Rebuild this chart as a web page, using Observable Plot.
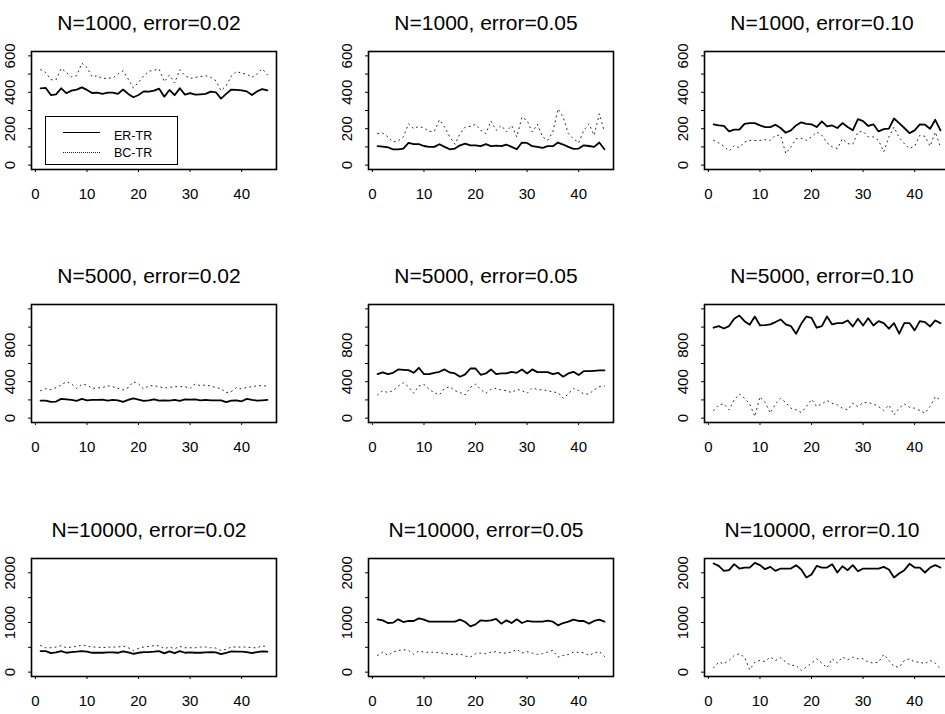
<!DOCTYPE html>
<html>
<head>
<meta charset="utf-8">
<script src="https://cdn.jsdelivr.net/npm/d3@7"></script>
<script src="https://cdn.jsdelivr.net/npm/@observablehq/plot@0.6"></script>
<style>
  html, body { margin: 0; padding: 0; background: white; overflow: hidden; }
  #wrap { position: relative; width: 945px; height: 714px; overflow: hidden; background: white;
          font-family: "Liberation Sans", Arial, Helvetica, sans-serif; }
  .legend { position: absolute; left: 45px; top: 116px; width: 131px; height: 47px;
            border: 1.3px solid black; background: white; font-size: 12.5px; }
  .legend .sw { position: absolute; left: 17px; width: 37px; height: 0; }
  .legend .lab { position: absolute; left: 68px; line-height: 12px; }
</style>
</head>
<body>
<div id="wrap"></div>
<script>
// ---- data ----
const runs = [1,2,3,4,5,6,7,8,9,10,11,12,13,14,15,16,17,18,19,20,21,22,23,24,25,26,27,28,29,30,31,32,33,34,35,36,37,38,39,40,41,42,43,44,45];
const sampleSizes = [1000, 5000, 10000];
const errorRates = ["0.02", "0.05", "0.10"];
const seriesNames = ["ER-TR", "BC-TR"];
const xTicks = [0, 10, 20, 30, 40];
const yLimits = [[0, 600], [0, 1200], [0, 2200]];
const yTickMarks = [[0,100,200,300,400,500,600],[0,200,400,600,800,1000,1200],[0,500,1000,1500,2000]];
const yTickLabels = [[0,200,400,600],[0,400,800],[0,1000,2000]];

const erTr_1000_002 = [422,424,385,389,422,395,409,415,427,413,396,398,391,398,398,391,415,391,373,385,405,404,409,420,376,413,384,422,387,396,387,389,391,404,400,365,391,415,413,411,405,385,405,418,411];
const bcTr_1000_002 = [524,509,469,469,531,509,485,491,560,536,485,491,475,478,478,500,518,473,424,455,491,515,522,527,458,495,451,524,491,476,482,485,491,482,464,409,436,489,515,504,500,482,500,529,496];
const erTr_1000_005 = [104,102,98,87,87,91,122,115,115,105,100,100,115,100,87,91,109,118,109,109,104,115,104,107,104,113,100,87,124,122,104,100,95,104,104,124,113,100,89,91,109,105,100,124,87];
const bcTr_1000_005 = [173,176,155,127,133,155,227,200,213,204,185,185,249,209,155,115,173,209,213,224,191,173,242,191,218,182,218,155,264,245,182,224,155,136,182,309,264,173,145,122,191,227,164,282,182];
const erTr_1000_010 = [224,218,215,185,195,195,227,231,231,218,209,209,222,204,178,191,218,235,227,224,209,240,213,218,204,231,209,191,253,242,215,224,185,198,200,256,231,204,176,191,224,222,200,249,191];
const bcTr_1000_010 = [136,122,104,78,107,96,127,136,135,136,140,136,164,164,64,100,145,147,136,155,182,164,122,100,91,145,118,115,182,185,155,155,136,73,155,209,151,118,91,104,164,158,104,182,100];

const erTr_5000_002 = [193,193,178,182,211,207,200,189,211,196,200,200,204,193,200,196,178,200,218,204,189,196,207,193,196,193,200,189,207,204,207,196,200,196,196,196,175,193,196,185,211,200,193,196,200];
const bcTr_5000_002 = [302,324,313,335,364,400,375,327,371,364,327,331,335,356,345,327,309,335,400,375,320,356,356,345,331,338,345,345,345,327,375,356,364,353,335,324,280,291,335,320,338,345,356,356,353];
const erTr_5000_005 = [484,502,484,498,535,531,527,498,553,484,484,498,509,535,502,491,455,480,545,545,476,491,535,484,491,491,509,498,535,491,535,505,505,505,484,498,455,491,509,473,516,516,520,524,524];
const bcTr_5000_005 = [255,302,280,302,353,389,345,273,353,371,316,280,255,327,345,302,280,255,338,375,316,273,316,327,309,302,280,316,302,273,331,316,309,302,287,280,218,265,327,302,265,265,309,345,353];
const erTr_5000_010 = [993,1011,985,1011,1091,1127,1065,1025,1116,1018,1022,1029,1055,1084,1029,1011,927,1036,1116,1102,993,1011,1116,1029,1044,1044,1073,1007,1091,1018,1098,1018,1065,1044,982,1044,927,1044,1044,964,1065,1055,1007,1073,1044];
const bcTr_5000_010 = [84,145,156,91,200,265,218,156,18,236,171,55,156,218,171,109,91,62,127,207,127,156,193,164,145,109,91,164,127,171,171,156,127,84,145,36,109,156,120,109,84,55,127,236,200];

const erTr_10000_002 = [424,424,384,397,424,390,404,411,424,411,390,390,390,397,397,390,417,397,370,390,404,404,411,424,377,417,384,424,390,397,390,390,397,404,397,363,390,417,411,411,404,384,404,417,411];
const bcTr_10000_002 = [538,491,491,505,532,491,505,518,545,525,505,505,491,505,505,505,525,491,437,478,505,518,532,532,471,505,471,518,491,491,491,505,505,491,485,437,458,505,505,505,505,491,491,532,505];
const erTr_10000_005 = [1063,1043,989,996,1063,1009,1030,1030,1083,1057,1016,1016,1016,1016,1016,1016,1057,1009,922,962,1043,1030,1043,1070,976,1043,989,1063,989,1030,1016,1016,1016,1036,1016,942,989,1016,1057,1030,1030,976,1030,1057,1016];
const bcTr_10000_005 = [336,404,336,404,437,451,437,357,424,404,397,404,384,384,357,357,370,323,303,370,384,370,404,411,384,384,404,458,384,411,384,357,370,404,437,303,336,357,404,397,390,336,384,417,316];
const erTr_10000_010 = [2187,2140,2039,2053,2174,2086,2106,2106,2201,2154,2073,2120,2039,2086,2086,2086,2154,2066,1905,1965,2140,2106,2106,2174,2006,2133,2053,2154,2032,2086,2086,2086,2086,2120,2066,1905,1985,2053,2181,2106,2106,2006,2106,2154,2106];
const bcTr_10000_010 = [87,202,168,235,336,370,303,47,202,235,215,303,235,289,202,135,135,34,101,182,269,182,87,269,182,303,249,303,269,269,202,182,202,356,235,114,101,235,269,202,202,168,235,182,67];

const erTr = [[erTr_1000_002, erTr_1000_005, erTr_1000_010],
              [erTr_5000_002, erTr_5000_005, erTr_5000_010],
              [erTr_10000_002, erTr_10000_005, erTr_10000_010]];
const bcTr = [[bcTr_1000_002, bcTr_1000_005, bcTr_1000_010],
              [bcTr_5000_002, bcTr_5000_005, bcTr_5000_010],
              [bcTr_10000_002, bcTr_10000_005, bcTr_10000_010]];

// ---- layout ----
const colLeft = [31, 368, 704];
const rowTop = [51, 304, 558];
const mL = 35, mR = 10, mT = 51, mB = 40, boxW = 245, boxH = 118;
const font = '"Liberation Sans", Arial, Helvetica, sans-serif';

function expand([lo, hi]) { const e = 0.04 * (hi - lo); return [lo - e, hi + e]; }
const xDomain = expand([runs[0], runs[runs.length - 1]]);

const wrap = document.getElementById("wrap");

for (let r = 0; r < 3; r++) {
  for (let c = 0; c < 3; c++) {
    const er = erTr[r][c], bc = bcTr[r][c];
    const table = runs.map((run, i) => ({run, er: er[i], bc: bc[i]}));
    const title = `N=${sampleSizes[r]}, error=${errorRates[c]}`;
    const svg = Plot.plot({
      width: mL + boxW + mR, height: mT + boxH + mB,
      marginLeft: mL, marginRight: mR, marginTop: mT, marginBottom: mB,
      x: {domain: xDomain},
      y: {domain: expand(yLimits[r])},
      style: {fontFamily: font, fontSize: "15px", color: "black", background: "transparent", overflow: "visible"},
      marks: [
        Plot.line(table, {x: "run", y: "bc", stroke: "#222", strokeWidth: 1, strokeDasharray: "1,4"}),
        Plot.line(table, {x: "run", y: "er", stroke: "black", strokeWidth: 1.8}),
        Plot.frame({stroke: "black", strokeWidth: 1.6}),
        Plot.axisX({ticks: xTicks, tickSize: 3, tickPadding: 16, fontSize: 15, label: null, tickFormat: d => String(d)}),
        Plot.axisY({ticks: yTickMarks[r], tickSize: 3, label: null, tickFormat: () => ""}),
        Plot.text(yTickLabels[r], {y: d => d, text: d => String(d), frameAnchor: "left", dx: -21,
                                   rotate: -90, fontSize: 15, textAnchor: "middle", lineAnchor: "middle", fill: "black"}),
        Plot.text([title], {frameAnchor: "top", text: d => d, dy: -36, dx: -5, fontSize: 21, fill: "black"})
      ]
    });
    svg.style.position = "absolute";
    svg.style.left = (colLeft[c] - mL) + "px";
    svg.style.top = (rowTop[r] - mT) + "px";
    wrap.appendChild(svg);
  }
}

// legend (first panel)
const legend = document.createElement("div");
legend.className = "legend";
legend.innerHTML =
  `<div class="sw" style="top:15px;border-top:1.8px solid black"></div>` +
  `<div class="lab" style="top:13px">${seriesNames[0]}</div>` +
  `<div class="sw" style="top:35px;border-top:1.2px dotted #222"></div>` +
  `<div class="lab" style="top:30px">${seriesNames[1]}</div>`;
wrap.appendChild(legend);
</script>
</body>
</html>
